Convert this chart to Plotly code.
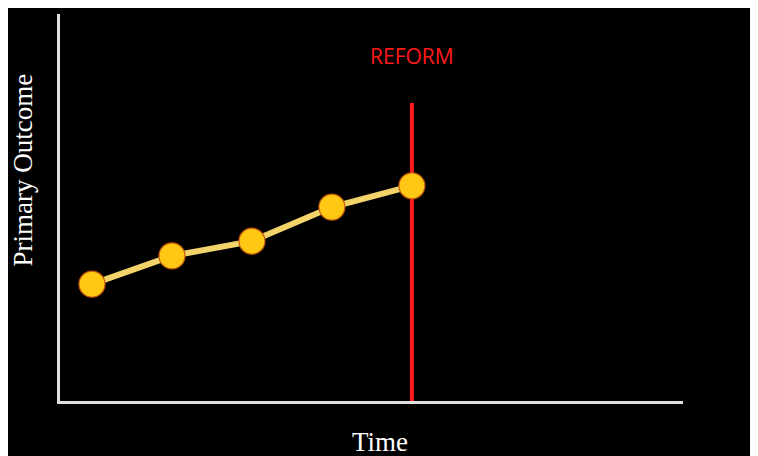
import plotly.graph_objects as go

# Data
time_points = [1, 2, 3, 4, 5]
outcome_values = [3.02, 3.75, 4.13, 5.01, 5.56]
reform_time = 5
reform_line_top = 7.7
reform_label = "REFORM"
x_title = "Time"
y_title = "Primary Outcome"

W, H = 766, 456
L, R, T, B = 52, 91, 6, 63
pw, ph = W - L - R, H - T - B

def px_to_paper_x(px):
    return (px - L) / pw

def px_to_paper_y(py):
    return (H - B - py) / ph

fig = go.Figure()
fig.add_trace(go.Scatter(
    x=time_points, y=outcome_values, mode="lines",
    line=dict(color="#F3D46A", width=6), hoverinfo="skip", showlegend=False))
fig.add_trace(go.Scatter(
    x=[reform_time, reform_time], y=[0, reform_line_top], mode="lines",
    line=dict(color="#FF1A1A", width=4), hoverinfo="skip", showlegend=False))
fig.add_trace(go.Scatter(
    x=time_points, y=outcome_values, mode="markers",
    marker=dict(size=26, color="#FFC814", line=dict(color="#C8580A", width=1.2)),
    showlegend=False))

fig.add_annotation(x=reform_time, y=8.91, xref="x", yref="y", text=reform_label,
                   xanchor="center", yanchor="middle",
                   showarrow=False, font=dict(family="Open Sans", size=21, color="#FF1A1A"))
fig.add_annotation(x=px_to_paper_x(372), y=px_to_paper_y(434), xref="paper", yref="paper",
                   text=x_title, showarrow=False, xanchor="center", yanchor="middle",
                   font=dict(family="Liberation Serif", size=27, color="white"))
fig.add_annotation(x=px_to_paper_x(14), y=px_to_paper_y(162.5), xref="paper", yref="paper",
                   text=y_title, showarrow=False, textangle=-90,
                   xanchor="center", yanchor="middle", borderpad=0, borderwidth=0,
                   font=dict(family="Liberation Serif", size=27, color="white"))

fig.update_layout(
    width=W, height=H,
    margin=dict(l=L, r=R, t=T, b=B),
    paper_bgcolor="black", plot_bgcolor="black",
    xaxis=dict(range=[0.6, 8.39], showgrid=False, zeroline=False, showticklabels=False,
               ticks="", showline=True, linecolor="#E0E0E0", linewidth=3),
    yaxis=dict(range=[0, 10], showgrid=False, zeroline=False, showticklabels=False,
               ticks="", showline=True, linecolor="#E0E0E0", linewidth=3),
)

fig.write_html("out.html")
